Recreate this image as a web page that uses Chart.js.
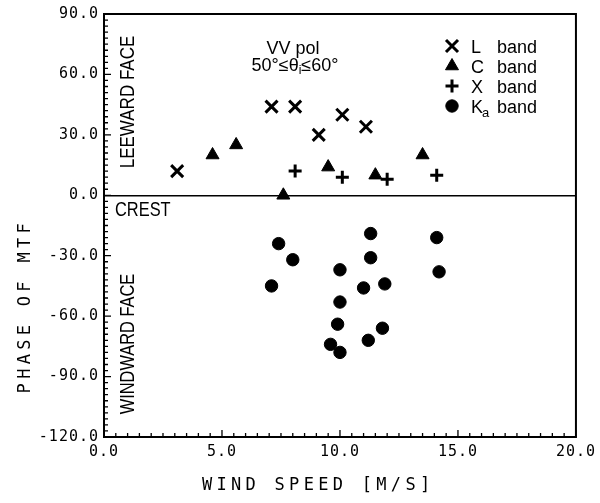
<!DOCTYPE html>
<html><head><meta charset="utf-8">
<script src="https://cdn.jsdelivr.net/npm/chart.js@4.4.1/dist/chart.umd.min.js"></script>
<style>html,body{margin:0;padding:0;background:#fff}</style>
</head><body>
<canvas id="c" width="600" height="503"></canvas>
<script>
// ---- data ----
const seriesNames = ['L band', 'C band', 'X band', 'Ka band'];
const lBandSpeed  = [3.1, 7.1, 8.1, 9.1, 10.1, 11.1];
const lBandPhase  = [12, 44, 44, 30, 40, 34];
const cBandSpeed  = [4.6, 5.6, 7.6, 9.5, 11.5, 13.5];
const cBandPhase  = [20, 25, 0, 14, 10, 20];
const xBandSpeed  = [8.1, 10.1, 12.0, 14.1];
const xBandPhase  = [12, 9, 8, 10];
const kaBandSpeed = [7.4, 8.0, 7.1, 10.0, 10.0, 9.9, 9.6, 10.0, 11.3, 11.3, 11.0, 11.9, 11.2, 11.8, 14.1, 14.2];
const kaBandPhase = [-24, -32, -45, -37, -53, -64, -74, -78, -19, -31, -46, -44, -72, -66, -21, -38];

const xMin = 0, xMax = 20, xStep = 5, xMinorStep = 0.5;
const yMin = -120, yMax = 90, yStep = 30, yMinorStep = 3;

const xTitle = 'WIND SPEED [M/S]';
const yTitle = 'PHASE OF MTF';
const leewardText = 'LEEWARD FACE';
const windwardText = 'WINDWARD FACE';
const crestText = 'CREST';
const polText = 'VV pol';
const angleText = ['50°≤θ', 'i', '≤60°'];

// ---- build ----
const zip = (xs, ys) => xs.map((v, i) => ({x: v, y: ys[i]}));
const markers = [
  {style: 'crossRot', r: 8.5, bw: 3},
  {style: 'triangle', r: 7.5, bw: 1},
  {style: 'cross',    r: 6.5, bw: 3},
  {style: 'circle',   r: 6.2, bw: 1}
];
const seriesData = [zip(lBandSpeed, lBandPhase), zip(cBandSpeed, cBandPhase), zip(xBandSpeed, xBandPhase), zip(kaBandSpeed, kaBandPhase)];

const datasets = seriesNames.map((name, i) => ({
  label: name,
  data: seriesData[i],
  showLine: false,
  pointStyle: markers[i].style,
  pointRadius: markers[i].r,
  pointHoverRadius: markers[i].r,
  pointBorderWidth: markers[i].bw,
  borderColor: '#000',
  backgroundColor: '#000'
}));

function drawMarker(ctx, m, x, y) {
  ctx.save();
  ctx.strokeStyle = '#000'; ctx.fillStyle = '#000'; ctx.lineWidth = m.bw;
  if (Chart.helpers && Chart.helpers.drawPoint) {
    Chart.helpers.drawPoint(ctx, {pointStyle: m.style, radius: m.r, borderWidth: m.bw, rotation: 0}, x, y);
  } else {
    ctx.beginPath(); ctx.arc(x, y, m.r, 0, Math.PI * 2); ctx.fill();
  }
  ctx.restore();
}

function rotText(ctx, text, x, y, rot, sx, align, baseline) {
  ctx.save();
  ctx.translate(x, y); ctx.rotate(rot); ctx.scale(sx, 1);
  ctx.textAlign = align; ctx.textBaseline = baseline;
  ctx.fillText(text, 0, 0);
  ctx.restore();
}

const decor = {
  id: 'decor',
  beforeDraw(chart) { chart.ctx.letterSpacing = '4.3px'; },
  afterDatasetsDraw(chart) { chart.ctx.letterSpacing = '1px'; },
  afterDraw(chart) {
    const ctx = chart.ctx, a = chart.chartArea, xs = chart.scales.x, ys = chart.scales.y;
    ctx.save();
    ctx.letterSpacing = '0px';
    ctx.strokeStyle = '#000'; ctx.fillStyle = '#000';
    // frame
    ctx.lineWidth = 2;
    ctx.strokeRect(a.left, a.top, a.right - a.left, a.bottom - a.top);
    // inward major/minor ticks
    ctx.lineWidth = 1.3;
    ctx.beginPath();
    const nx = Math.round((xMax - xMin) / xMinorStep), kx = Math.round(xStep / xMinorStep);
    for (let i = 0; i <= nx; i++) {
      const px = xs.getPixelForValue(xMin + i * xMinorStep);
      ctx.moveTo(px, a.bottom); ctx.lineTo(px, a.bottom - (i % kx === 0 ? 7 : 4));
    }
    const ny = Math.round((yMax - yMin) / yMinorStep), ky = Math.round(yStep / yMinorStep);
    for (let i = 0; i <= ny; i++) {
      const py = ys.getPixelForValue(yMin + i * yMinorStep);
      ctx.moveTo(a.left, py); ctx.lineTo(a.left + (i % ky === 0 ? 7 : 4), py);
    }
    ctx.stroke();

    // region labels (condensed sans)
    ctx.font = '20px "Liberation Sans", Arial, sans-serif';
    rotText(ctx, leewardText, a.left + 24, a.top + 88, -Math.PI / 2, 0.85, 'center', 'middle');
    rotText(ctx, windwardText, a.left + 24, a.top + 330, -Math.PI / 2, 0.82, 'center', 'middle');
    rotText(ctx, crestText, a.left + 11, a.top + 202, 0, 0.82, 'left', 'alphabetic');

    // polarisation / angle note
    ctx.font = '18px "Liberation Sans", Arial, sans-serif';
    ctx.textAlign = 'center'; ctx.textBaseline = 'alphabetic';
    ctx.fillText(polText, a.left + 189, a.top + 40);
    const subFont = '12px "Liberation Sans", Arial, sans-serif';
    ctx.font = '18px "Liberation Sans", Arial, sans-serif';
    const w0 = ctx.measureText(angleText[0]).width, w2 = ctx.measureText(angleText[2]).width;
    ctx.font = subFont; const w1 = ctx.measureText(angleText[1]).width;
    let tx = a.left + 191 - (w0 + w1 + w2) / 2;
    const ty = a.top + 57;
    ctx.textAlign = 'left';
    ctx.font = '18px "Liberation Sans", Arial, sans-serif'; ctx.fillText(angleText[0], tx, ty); tx += w0;
    ctx.font = subFont; ctx.fillText(angleText[1], tx, ty + 3); tx += w1;
    ctx.font = '18px "Liberation Sans", Arial, sans-serif'; ctx.fillText(angleText[2], tx, ty);

    // legend
    seriesNames.forEach((name, i) => {
      const ry = a.top + 32 + i * 20;
      drawMarker(ctx, markers[i], a.left + 348, ry);
      const parts = name.split(' ');
      ctx.font = '18px "Liberation Sans", Arial, sans-serif';
      ctx.textAlign = 'left'; ctx.textBaseline = 'alphabetic';
      const lx = a.left + 367;
      ctx.fillText(parts[0][0], lx, ry + 6.5);
      if (parts[0].length > 1) {
        const wk = ctx.measureText(parts[0][0]).width;
        ctx.font = '13px "Liberation Sans", Arial, sans-serif';
        ctx.fillText(parts[0].slice(1), lx + wk - 1, ry + 11);
        ctx.font = '18px "Liberation Sans", Arial, sans-serif';
      }
      ctx.fillText(parts[1], a.left + 393, ry + 6.5);
    });
    ctx.restore();
  }
};

new Chart(document.getElementById('c'), {
  type: 'scatter',
  data: {datasets},
  options: {
    responsive: false,
    animation: false,
    events: [],
    layout: {padding: {left: 0, right: 24, top: 10, bottom: 0}},
    plugins: {legend: {display: false}, tooltip: {enabled: false}},
    scales: {
      x: {
        type: 'linear', position: 'bottom', min: xMin, max: xMax,
        ticks: {stepSize: xStep, callback: v => Number(v).toFixed(1), color: '#000', maxRotation: 0, autoSkip: false,
                font: {family: '"DejaVu Sans Mono", monospace', size: 15}, padding: 6, z: 1},
        grid: {display: false, drawTicks: false},
        border: {display: false},
        title: {display: true, text: xTitle + '   ', color: '#000',
                font: {family: '"DejaVu Sans Mono", monospace', size: 17}, padding: {top: 0, bottom: 7}},
        afterFit(s) { s.height = 66; }
      },
      y: {
        type: 'linear', position: 'left', min: yMin, max: yMax,
        ticks: {stepSize: yStep, callback: v => Number(v).toFixed(1), color: '#000',
                font: {family: '"DejaVu Sans Mono", monospace', size: 15}, padding: 5, z: 1},
        grid: {drawTicks: false, lineWidth: 1.5, color: c => (c.tick && c.tick.value === 0) ? '#000' : 'rgba(0,0,0,0)'},
        border: {display: false},
        title: {display: true, text: '   ' + yTitle, align: 'start', color: '#000',
                font: {family: '"DejaVu Sans Mono", monospace', size: 17}, padding: {top: 15, bottom: 0}},
        afterFit(s) { s.width = 104; }
      }
    }
  },
  plugins: [decor]
});
</script>
</body></html>
